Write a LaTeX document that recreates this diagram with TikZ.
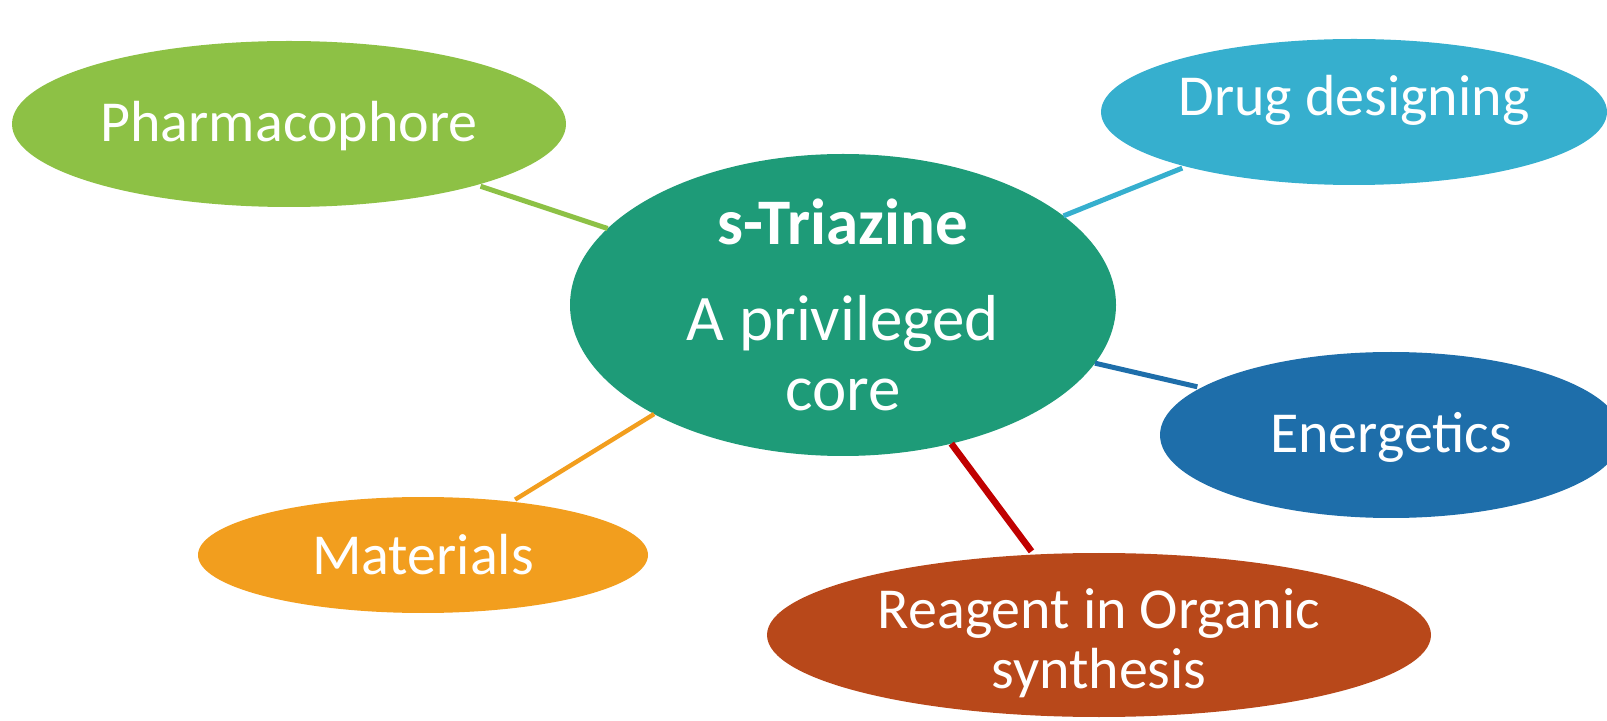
\documentclass[tikz,border=0pt]{standalone}
\usepackage{fontspec}
\setmainfont{Carlito}
\usepackage{tikz}
\usetikzlibrary{shapes, positioning, calc}

\definecolor{pharmgreen}{HTML}{8DC145}
\definecolor{coreteal}{HTML}{1E9B78}
\definecolor{drugblue}{HTML}{36AFCE}
\definecolor{energblue}{HTML}{1E6EAA}
\definecolor{matorange}{HTML}{F29E1E}
\definecolor{reagbrown}{HTML}{B8481A}
\definecolor{linkred}{HTML}{C00000}

\begin{document}
\begin{tikzpicture}[x=0.5pt,y=-0.5pt, shorten >=2pt,
  blob/.style={ellipse, draw=none, inner sep=0pt, outer sep=0pt},
  txt/.style={text=white, align=center, font=\fontsize{29}{35}\selectfont},
  link/.style={line width=2.5pt}]
  \useasboundingbox (0,0) rectangle (1607,721);
  \node[blob, fill=coreteal, minimum width=273pt, minimum height=151pt,
    label={[txt, font=\fontsize{32.5}{35}\selectfont]center:\textbf{s-Triazine}\\[13pt]A privileged\\core}] (core) at (843,305) {};
  \node[blob, fill=pharmgreen, minimum width=277pt, minimum height=83pt,
    label={[txt, yshift=-1pt]center:Pharmacophore}] (pharm) at (289,124) {};
  \node[blob, fill=drugblue, minimum width=253pt, minimum height=73pt,
    label={[txt, yshift=6pt]center:Drug designing}] (drug) at (1354,112) {};
  \node[blob, fill=energblue, minimum width=231pt, minimum height=83pt,
    label={[txt, yshift=-1pt]center:Energetics}] (energ) at (1391,435) {};
  \node[blob, fill=matorange, minimum width=225pt, minimum height=58pt,
    label={[txt]center:Materials}] (mat) at (423,555) {};
  \node[blob, fill=reagbrown, minimum width=332pt, minimum height=82pt,
    label={[txt, yshift=-4pt, font=\fontsize{29}{30}\selectfont]center:Reagent in Organic\\synthesis}] (reag) at (1099,635) {};
  \path
    (core.162) edge[link, draw=pharmgreen] (pharm.-18)
    (core.22) edge[link, draw=drugblue] (drug.198)
    (core.-13) edge[link, draw=energblue] (energ.166)
    (core.210) edge[link, line width=2.2pt, draw=matorange] (mat.31)
    (core.-52) edge[link, line width=3.3pt, draw=linkred] (reag.129);
\end{tikzpicture}
\end{document}
